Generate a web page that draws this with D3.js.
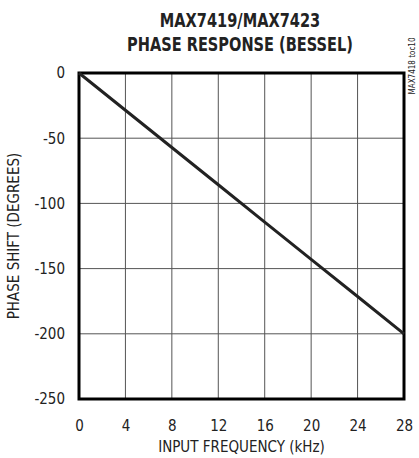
<!DOCTYPE html>
<html>
<head>
<meta charset="utf-8">
<script src="https://cdn.jsdelivr.net/npm/d3@7"></script>
<style>
  body { margin: 0; background: #fff; }
  text { font-family: "DejaVu Sans Condensed", "Liberation Sans Narrow", sans-serif; fill: #222; }
</style>
</head>
<body>
<div id="chart"></div>
<script>
var freq = [0, 4, 8, 12, 16, 20, 24, 28]
var phase = [0, -28.6, -57.1, -85.7, -114.3, -142.9, -171.4, -200]
var xTicks = [0, 4, 8, 12, 16, 20, 24, 28]
var yTicks = [0, -50, -100, -150, -200, -250]

var margin = { top: 73, left: 79, right: 15, bottom: 59 },
    width = 419 - margin.left - margin.right,
    height = 458 - margin.top - margin.bottom

var svg = d3.select("#chart")
  .append("svg")
  .attr("width", 419)
  .attr("height", 458)

var g = svg.append("g")
  .attr("transform", "translate(" + margin.left + "," + margin.top + ")")

var x = d3.scaleLinear().domain([0, 28]).range([0, width])
var y = d3.scaleLinear().domain([-250, 0]).range([height, 0])

// grid
g.selectAll(".vgrid")
  .data(xTicks)
  .enter().append("line")
  .attr("x1", d => x(d)).attr("x2", d => x(d))
  .attr("y1", 0).attr("y2", height)
  .attr("stroke", "#555").attr("stroke-width", 1)

g.selectAll(".hgrid")
  .data(yTicks)
  .enter().append("line")
  .attr("x1", 0).attr("x2", width)
  .attr("y1", d => y(d)).attr("y2", d => y(d))
  .attr("stroke", "#555").attr("stroke-width", 1)

// axes (labels only), plain hyphen for negatives
var xAxis = g.append("g")
  .attr("transform", "translate(0," + height + ")")
  .call(d3.axisBottom(x).tickValues(xTicks).tickSize(0).tickPadding(21).tickFormat(d => String(d)))
xAxis.select(".domain").remove()
xAxis.selectAll("text").style("font-size", "15px").attr("fill", "#222")

var yAxis = g.append("g")
  .call(d3.axisLeft(y).tickValues(yTicks).tickSize(0).tickPadding(14).tickFormat(d => String(d)))
yAxis.select(".domain").remove()
yAxis.selectAll("text").style("font-size", "15px").attr("fill", "#222")

// frame
g.append("rect")
  .attr("width", width).attr("height", height)
  .attr("fill", "none").attr("stroke", "#000").attr("stroke-width", 3)

// curve
var line = d3.line()
  .x((d, i) => x(freq[i]))
  .y(d => y(d))

g.append("path")
  .datum(phase)
  .attr("d", line)
  .attr("fill", "none")
  .attr("stroke", "#222")
  .attr("stroke-width", 3)

// titles (squeezed a bit to look condensed)
svg.append("text")
  .attr("transform", "translate(240,27) scale(0.9,1.05)")
  .attr("text-anchor", "middle")
  .style("font-size", "18px").style("font-weight", "bold")
  .attr("fill", "#111")
  .text("MAX7419/MAX7423")

svg.append("text")
  .attr("transform", "translate(240,51) scale(0.9,1.05)")
  .attr("text-anchor", "middle")
  .style("font-size", "18px").style("font-weight", "bold")
  .attr("fill", "#111")
  .text("PHASE RESPONSE (BESSEL)")

svg.append("text")
  .attr("x", margin.left + width / 2).attr("y", 452)
  .attr("text-anchor", "middle")
  .style("font-size", "15px")
  .text("INPUT FREQUENCY (kHz)")

svg.append("text")
  .attr("transform", "translate(19," + (margin.top + height / 2) + ") rotate(-90)")
  .attr("text-anchor", "middle")
  .style("font-size", "15px")
  .text("PHASE SHIFT (DEGREES)")

svg.append("text")
  .attr("transform", "translate(415,66) rotate(-90)")
  .attr("text-anchor", "middle")
  .style("font-size", "8px")
  .text("MAX7418 toc10")
</script>
</body>
</html>
